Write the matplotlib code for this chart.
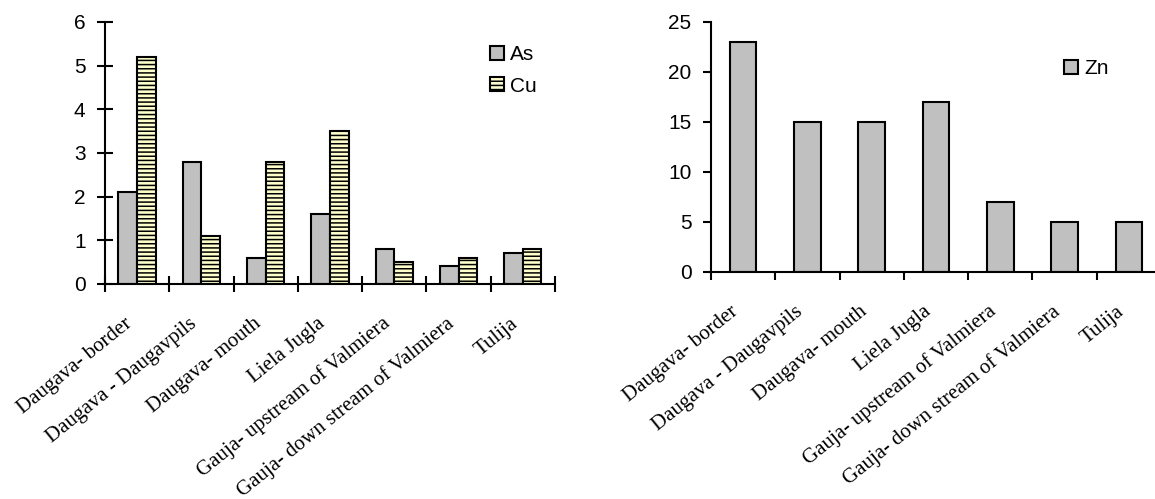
import numpy as np
import matplotlib
matplotlib.use("Agg")
import matplotlib.pyplot as plt

sites = ["Daugava- border", "Daugava - Daugavpils", "Daugava- mouth", "Liela Jugla",
         "Gauja- upstream of Valmiera", "Gauja- down stream of Valmiera", "Tulija"]
as_vals = [2.1, 2.8, 0.6, 1.6, 0.8, 0.4, 0.7]
cu_vals = [5.2, 1.1, 2.8, 3.5, 0.5, 0.6, 0.8]
zn_vals = [23, 15, 15, 17, 7, 5, 5]

plt.rcParams['font.family'] = 'Liberation Sans'
plt.rcParams['hatch.linewidth'] = 1.1
plt.rcParams['hatch.color'] = '#8c8c8c'

fig = plt.figure(figsize=(11.55, 4.99), dpi=100, facecolor='white')
ax1 = fig.add_axes([0.0909, 0.431, 0.3896, 0.525])
ax2 = fig.add_axes([0.6156, 0.455, 0.3896, 0.501])

x = np.arange(len(sites))

# left chart: As and Cu
ax1.bar(x - 0.145, as_vals, width=0.29, color='#c0c0c0', edgecolor='black', linewidth=1.5, label='As')
ax1.bar(x + 0.145, cu_vals, width=0.29, color='#ffffcc', edgecolor='black', linewidth=1.5,
        hatch='----', label='Cu')
ax1.set_ylim(0, 6)
ax1.set_yticks(range(0, 7))

# right chart: Zn
ax2.bar(x, zn_vals, width=0.415, color='#c0c0c0', edgecolor='black', linewidth=1.5, label='Zn')
ax2.set_ylim(0, 25)
ax2.set_yticks(range(0, 26, 5))

for ax in (ax1, ax2):
    ax.set_xlim(-0.5, len(sites) - 0.5)
    ax.spines['top'].set_visible(False)
    ax.spines['right'].set_visible(False)
    ax.spines['left'].set_linewidth(1.5)
    ax.spines['bottom'].set_linewidth(1.5)
    ax.set_xticks(np.arange(len(sites) + 1) - 0.5)
    ax.set_xticklabels([])
    ax.tick_params(axis='both', width=1.5, length=6, labelsize=15, pad=8)
    # slanted category names, right end near the category centre
    for i, s in enumerate(sites):
        ax.annotate(s, xy=(i, 0), xycoords=('data', 'axes fraction'),
                    xytext=(-5, -27), textcoords='offset points', rotation=39,
                    rotation_mode='anchor', ha='right', va='center',
                    family='Liberation Serif', fontsize=15, annotation_clip=False)

ax1.tick_params(axis='both', direction='inout', length=12)

ax1.legend(loc='upper left', bbox_to_anchor=(0.815, 0.983), frameon=False, fontsize=15,
           handlelength=0.65, handleheight=0.65, handletextpad=0.3, labelspacing=0.6)
ax2.legend(loc='upper left', bbox_to_anchor=(0.743, 0.926), frameon=False, fontsize=15,
           handlelength=0.65, handleheight=0.65, handletextpad=0.3)

fig.savefig('out.png', dpi=100, facecolor='white')
